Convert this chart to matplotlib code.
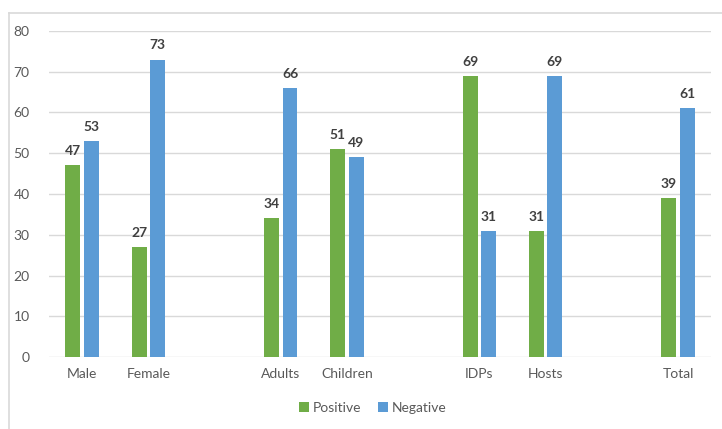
import matplotlib
matplotlib.use("Agg")
import matplotlib.pyplot as plt
from matplotlib.lines import Line2D
import numpy as np

categories = ["Male", "Female", "", "Adults", "Children", "", "IDPs", "Hosts", "", "Total"]
positive = [47, 27, None, 34, 51, None, 69, 31, None, 39]
negative = [53, 73, None, 66, 49, None, 31, 69, None, 61]
yticks = [0, 10, 20, 30, 40, 50, 60, 70, 80]

plt.rcParams["font.family"] = ["Lato", "DejaVu Sans"]

GREEN = "#70AD47"
BLUE = "#5B9BD5"
TICK = "#595959"
LABEL = "#404040"
GRID = "#D9D9D9"

fig = plt.figure(figsize=(7.22, 4.29), dpi=100)
ax = fig.add_axes([0.0679, 0.1678, 0.917, 0.760])

# chart frame (top and left edges)
fx, fy = 8.5 / 722, 1 - 12.5 / 429
fig.lines.append(Line2D([fx, 1.0], [fy, fy], transform=fig.transFigure,
                        color=GRID, linewidth=1.2))
fig.lines.append(Line2D([fx, fx], [0.0, fy], transform=fig.transFigure,
                        color=GRID, linewidth=1.2))

x = np.arange(len(categories))
w = 0.225
off = 0.14
for i, (p, n) in enumerate(zip(positive, negative)):
    if p is None:
        continue
    ax.bar(x[i] - off, p, w, color=GREEN, zorder=3,
           label="Positive" if i == 0 else None)
    ax.bar(x[i] + off, n, w, color=BLUE, zorder=3,
           label="Negative" if i == 0 else None)
    ax.text(x[i] - off, p + 2, str(p), ha="center", va="bottom",
            fontsize=10, fontweight="bold", color=LABEL)
    ax.text(x[i] + off, n + 2, str(n), ha="center", va="bottom",
            fontsize=10, fontweight="bold", color=LABEL)

ax.set_xlim(-0.5, len(categories) - 0.5)
ax.set_ylim(0, 80)
ax.set_yticks(yticks)
ax.set_xticks(x)
ax.set_xticklabels(categories)
ax.tick_params(axis="both", length=0, labelsize=10, colors=TICK)
ax.tick_params(axis="x", pad=8)
ax.tick_params(axis="y", pad=14)
ax.grid(axis="y", color=GRID, linewidth=1.0, zorder=0)
for s in ax.spines.values():
    s.set_visible(False)

fig.legend(loc="center", bbox_to_anchor=(373 / 722, 1 - 408 / 429),
           ncol=2, frameon=False, fontsize=10, handlelength=0.7,
           handleheight=0.7, handletextpad=0.3, columnspacing=1.2,
           labelcolor=TICK)

fig.savefig("out.png", dpi=100)
